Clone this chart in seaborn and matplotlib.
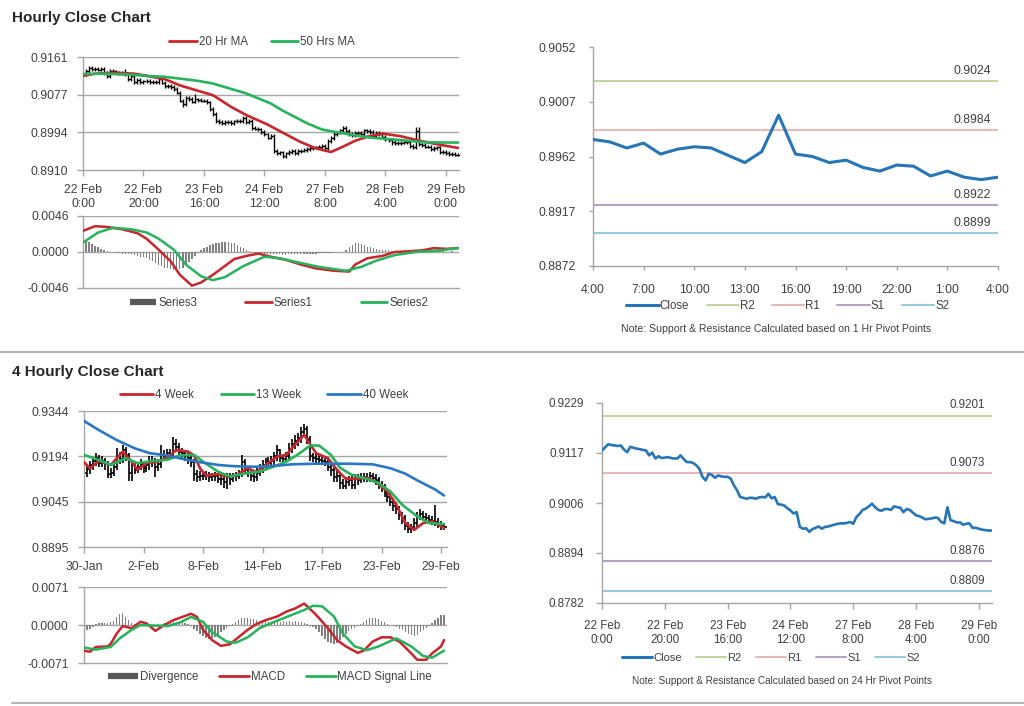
import numpy as np
import matplotlib
matplotlib.use("Agg")
import matplotlib.pyplot as plt
import seaborn as sns
from matplotlib.lines import Line2D

# ---------------- DATA ----------------
# Hourly chart (22 Feb 0:00 -> 29 Feb ~4:00), one value per hour
h_xlabels = ["22 Feb\n0:00", "22 Feb\n20:00", "23 Feb\n16:00", "24 Feb\n12:00",
             "27 Feb\n8:00", "28 Feb\n4:00", "29 Feb\n0:00"]
h_close = [0.9123, 0.9130, 0.9137, 0.9135, 0.9134, 0.9133, 0.9134, 0.9125, 0.9119, 0.9131,
           0.9129, 0.9127, 0.9126, 0.9124, 0.9123, 0.9112, 0.9118, 0.9105, 0.9110, 0.9106,
           0.9107, 0.9108, 0.9106, 0.9105, 0.9105, 0.9112, 0.9104, 0.9097, 0.9097, 0.9095,
           0.9090, 0.9082, 0.9064, 0.9056, 0.9071, 0.9068, 0.9062, 0.9067, 0.9065, 0.9064,
           0.9064, 0.9060, 0.9045, 0.9034, 0.9019, 0.9017, 0.9015, 0.9017, 0.9017, 0.9015,
           0.9018, 0.9019, 0.9018, 0.9026, 0.9016, 0.9019, 0.9003, 0.9002, 0.9000, 0.8994,
           0.8989, 0.8982, 0.8985, 0.8952, 0.8948, 0.8949, 0.8941, 0.8947, 0.8950, 0.8953,
           0.8948, 0.8952, 0.8953, 0.8955, 0.8957, 0.8959, 0.8960, 0.8960, 0.8961, 0.8963,
           0.8959, 0.8974, 0.8981, 0.8990, 0.8993, 0.8998, 0.9004, 0.8996, 0.8990, 0.8988,
           0.8992, 0.8992, 0.8990, 0.8998, 0.8996, 0.8995, 0.8985, 0.8992, 0.8990, 0.8984,
           0.8978, 0.8976, 0.8973, 0.8969, 0.8970, 0.8971, 0.8973, 0.8972, 0.8963, 0.8960,
           0.8996, 0.8967, 0.8965, 0.8962, 0.8962, 0.8957, 0.8959, 0.8960, 0.8950, 0.8950,
           0.8948, 0.8946, 0.8945, 0.8944, 0.8944]
h_high = [0.9127, 0.9134, 0.9141, 0.9141, 0.9139, 0.9138, 0.9138, 0.9138, 0.9129, 0.9135,
          0.9135, 0.9133, 0.9131, 0.9130, 0.9134, 0.9127, 0.9122, 0.9122, 0.9114, 0.9114,
          0.9111, 0.9112, 0.9112, 0.9110, 0.9109, 0.9116, 0.9116, 0.9108, 0.9101, 0.9101,
          0.9099, 0.9094, 0.9086, 0.9068, 0.9075, 0.9075, 0.9072, 0.9078, 0.9071, 0.9069,
          0.9068, 0.9068, 0.9064, 0.9049, 0.9038, 0.9023, 0.9021, 0.9021, 0.9021, 0.9021,
          0.9022, 0.9023, 0.9023, 0.9030, 0.9030, 0.9023, 0.9023, 0.9007, 0.9006, 0.9004,
          0.8998, 0.8993, 0.8989, 0.8989, 0.8956, 0.8953, 0.8953, 0.8951, 0.8954, 0.8957,
          0.8957, 0.8956, 0.8957, 0.8959, 0.8961, 0.8963, 0.8964, 0.8964, 0.8965, 0.8967,
          0.8967, 0.8978, 0.8985, 0.8994, 0.8997, 0.9002, 0.9008, 0.9008, 0.9000, 0.8994,
          0.8996, 0.8996, 0.8996, 0.9002, 0.9002, 0.9000, 0.8999, 0.8996, 0.8996, 0.8994,
          0.8988, 0.8982, 0.8980, 0.8977, 0.8974, 0.8975, 0.8977, 0.8977, 0.8976, 0.8967,
          0.9005, 0.9005, 0.8971, 0.8969, 0.8966, 0.8966, 0.8963, 0.8964, 0.8964, 0.8954,
          0.8954, 0.8952, 0.8950, 0.8949, 0.8948]
h_low = [0.9119, 0.9119, 0.9126, 0.9131, 0.9130, 0.9129, 0.9129, 0.9121, 0.9115, 0.9115,
         0.9125, 0.9123, 0.9122, 0.9120, 0.9119, 0.9108, 0.9108, 0.9101, 0.9101, 0.9102,
         0.9102, 0.9103, 0.9102, 0.9101, 0.9101, 0.9101, 0.9100, 0.9093, 0.9093, 0.9091,
         0.9086, 0.9078, 0.9060, 0.9050, 0.9052, 0.9064, 0.9058, 0.9058, 0.9061, 0.9060,
         0.9060, 0.9056, 0.9041, 0.9030, 0.9015, 0.9013, 0.9011, 0.9011, 0.9013, 0.9011,
         0.9011, 0.9014, 0.9014, 0.9014, 0.9012, 0.9012, 0.8999, 0.8998, 0.8996, 0.8990,
         0.8985, 0.8978, 0.8978, 0.8948, 0.8944, 0.8944, 0.8937, 0.8937, 0.8943, 0.8946,
         0.8944, 0.8944, 0.8948, 0.8949, 0.8951, 0.8953, 0.8955, 0.8956, 0.8956, 0.8957,
         0.8952, 0.8955, 0.8970, 0.8977, 0.8986, 0.8989, 0.8994, 0.8992, 0.8986, 0.8984,
         0.8984, 0.8988, 0.8986, 0.8986, 0.8992, 0.8991, 0.8981, 0.8981, 0.8986, 0.8980,
         0.8974, 0.8972, 0.8966, 0.8965, 0.8965, 0.8966, 0.8967, 0.8968, 0.8959, 0.8956,
         0.8956, 0.8963, 0.8961, 0.8958, 0.8958, 0.8953, 0.8953, 0.8955, 0.8946, 0.8946,
         0.8944, 0.8942, 0.8941, 0.8940, 0.8940]
ma20h_x = [0, 4, 10, 17, 22, 27, 32, 37, 43, 49, 54, 61, 66, 72, 77, 82, 86, 90, 94, 99, 105, 112, 118, 124]
ma20h_y = [0.9119, 0.9124, 0.9126, 0.9124, 0.9118, 0.9112, 0.9098, 0.9088, 0.9076, 0.9050, 0.9032, 0.9011,
           0.8993, 0.8972, 0.8958, 0.8950, 0.8962, 0.8975, 0.8984, 0.8991, 0.8985, 0.8974, 0.8966, 0.8959]
ma50h_x = [0, 6, 15, 21, 27, 32, 38, 43, 49, 54, 58, 62, 66, 70, 74, 79, 83, 89, 95, 104, 112, 118, 124]
ma50h_y = [0.9123, 0.9124, 0.9122, 0.9119, 0.9117, 0.9113, 0.9108, 0.9102, 0.9090, 0.9080, 0.9069, 0.9058,
           0.9042, 0.9028, 0.9014, 0.9000, 0.8995, 0.8988, 0.8982, 0.8977, 0.8972, 0.8971, 0.8971]
# hourly MACD
h_hist = [0.0016, 0.0014, 0.0013, 0.0010, 0.0008, 0.0006, 0.0004, 0.0002, 0.0001, 0.0000,
          0.0000, -0.0001, -0.0001, -0.0002, -0.0002, -0.0003, -0.0003, -0.0004, -0.0005, -0.0006,
          -0.0007, -0.0008, -0.0010, -0.0012, -0.0014, -0.0016, -0.0018, -0.0020, -0.0021, -0.0022,
          -0.0023, -0.0023, -0.0022, -0.0020, -0.0017, -0.0013, -0.0009, -0.0005, -0.0001, 0.0002,
          0.0005, 0.0007, 0.0009, 0.0010, 0.0011, 0.0012, 0.0013, 0.0013, 0.0013, 0.0012,
          0.0011, 0.0009, 0.0007, 0.0005, 0.0003, 0.0001, 0.0000, -0.0001, -0.0001, -0.0002,
          -0.0002, -0.0002, -0.0003, -0.0003, -0.0003, -0.0003, -0.0004, -0.0004, -0.0003, -0.0003,
          -0.0003, -0.0003, -0.0003, -0.0003, -0.0002, -0.0002, -0.0002, -0.0002, -0.0001, -0.0001,
          -0.0001, -0.0001, -0.0001, 0.0000, 0.0000, 0.0000, 0.0000, 0.0002, 0.0006, 0.0009,
          0.0011, 0.0011, 0.0010, 0.0009, 0.0007, 0.0006, 0.0005, 0.0004, 0.0003, 0.0003,
          0.0002, 0.0002, 0.0001, 0.0001, 0.0001, 0.0000, 0.0001, 0.0001, 0.0001, 0.0001,
          0.0002, 0.0002, 0.0002, 0.0002, 0.0002, 0.0002, 0.0001, 0.0001, 0.0001, 0.0001,
          0.0000, 0.0000, 0.0001, 0.0000, 0.0000]
h_macd_x = [0, 4, 8, 13, 18, 21, 25, 29, 32, 36, 39, 43, 50, 54, 58, 62, 67, 72, 77, 83, 88, 90, 94, 99,
            103, 108, 112, 116, 120, 124]
h_macd_y = [0.0027, 0.0033, 0.0032, 0.0029, 0.0024, 0.0017, 0.0003, -0.0012, -0.0029, -0.0043, -0.0039,
            -0.0029, -0.0009, -0.0005, -0.0002, -0.0006, -0.0010, -0.0016, -0.0021, -0.0024, -0.0025,
            -0.0016, -0.0008, -0.0005, 0.0000, 0.0001, 0.0002, 0.0005, 0.0004, 0.0005]
h_sig_x = [0, 5, 10, 16, 21, 25, 30, 34, 39, 43, 47, 53, 60, 65, 72, 78, 87, 92, 97, 103, 110, 118, 124]
h_sig_y = [0.0012, 0.0025, 0.0031, 0.0029, 0.0025, 0.0017, 0.0003, -0.0016, -0.0031, -0.0036, -0.0032,
           -0.0018, -0.0006, -0.0008, -0.0014, -0.0019, -0.0024, -0.0019, -0.0011, -0.0004, 0.0000,
           0.0002, 0.0005]

# Last 24 hours close (4:00 -> 4:00)
d_xlabels = ["4:00", "7:00", "10:00", "13:00", "16:00", "19:00", "22:00", "1:00", "4:00"]
d_close = [0.8976, 0.8974, 0.8969, 0.8973, 0.8964, 0.8968, 0.8970, 0.8969, 0.8963, 0.8957,
           0.8966, 0.8996, 0.8964, 0.8962, 0.8957, 0.8959, 0.8953, 0.8950, 0.8955, 0.8954,
           0.8946, 0.8950, 0.8945, 0.8943, 0.8945]
pivot_names = ["R2", "R1", "S1", "S2"]
pivot_1h = [0.9024, 0.8984, 0.8922, 0.8899]
pivot_24h = [0.9201, 0.9073, 0.8876, 0.8809]

# 4 hourly chart
f_xlabels = ["30-Jan", "2-Feb", "8-Feb", "14-Feb", "17-Feb", "23-Feb", "29-Feb"]
f_close = [0.9140, 0.9152, 0.9165, 0.9178, 0.9190, 0.9172, 0.9180, 0.9168, 0.9135, 0.9140,
           0.9160, 0.9195, 0.9185, 0.9215, 0.9200, 0.9140, 0.9165, 0.9150, 0.9160, 0.9170,
           0.9155, 0.9165, 0.9175, 0.9180, 0.9160, 0.9170, 0.9200, 0.9195, 0.9205, 0.9200,
           0.9235, 0.9225, 0.9210, 0.9205, 0.9195, 0.9190, 0.9175, 0.9135, 0.9125, 0.9130,
           0.9128, 0.9132, 0.9125, 0.9130, 0.9128, 0.9120, 0.9118, 0.9110, 0.9125, 0.9120,
           0.9128, 0.9130, 0.9135, 0.9175, 0.9150, 0.9140, 0.9130, 0.9125, 0.9140, 0.9155,
           0.9165, 0.9175, 0.9172, 0.9180, 0.9195, 0.9215, 0.9190, 0.9185, 0.9195, 0.9220,
           0.9235, 0.9245, 0.9255, 0.9275, 0.9285, 0.9250, 0.9195, 0.9190, 0.9185, 0.9182,
           0.9178, 0.9175, 0.9160, 0.9150, 0.9125, 0.9130, 0.9105, 0.9098, 0.9110, 0.9115,
           0.9100, 0.9120, 0.9115, 0.9122, 0.9125, 0.9120, 0.9128, 0.9122, 0.9115, 0.9100,
           0.9090, 0.9075, 0.9060, 0.9045, 0.9030, 0.9020, 0.9000, 0.8990, 0.8965, 0.8955,
           0.8960, 0.8975, 0.8995, 0.9005, 0.8995, 0.8990, 0.8985, 0.8980, 0.8978, 0.8970,
           0.8965, 0.8962]
f_high = [0.9160, 0.9167, 0.9180, 0.9192, 0.9205, 0.9200, 0.9195, 0.9190, 0.9178, 0.9155,
          0.9180, 0.9221, 0.9210, 0.9232, 0.9225, 0.9205, 0.9180, 0.9175, 0.9172, 0.9185,
          0.9180, 0.9178, 0.9195, 0.9195, 0.9190, 0.9185, 0.9232, 0.9215, 0.9220, 0.9220,
          0.9259, 0.9250, 0.9240, 0.9222, 0.9215, 0.9210, 0.9205, 0.9185, 0.9150, 0.9145,
          0.9142, 0.9145, 0.9142, 0.9140, 0.9142, 0.9138, 0.9132, 0.9128, 0.9140, 0.9138,
          0.9140, 0.9142, 0.9150, 0.9199, 0.9185, 0.9162, 0.9152, 0.9145, 0.9155, 0.9170,
          0.9182, 0.9190, 0.9192, 0.9195, 0.9210, 0.9232, 0.9220, 0.9200, 0.9210, 0.9240,
          0.9250, 0.9265, 0.9270, 0.9290, 0.9300, 0.9295, 0.9260, 0.9205, 0.9202, 0.9198,
          0.9195, 0.9192, 0.9188, 0.9172, 0.9160, 0.9145, 0.9140, 0.9118, 0.9125, 0.9130,
          0.9128, 0.9135, 0.9135, 0.9138, 0.9140, 0.9138, 0.9142, 0.9140, 0.9135, 0.9125,
          0.9112, 0.9102, 0.9088, 0.9072, 0.9058, 0.9045, 0.9032, 0.9012, 0.9000, 0.8978,
          0.8972, 0.8990, 0.9010, 0.9020, 0.9015, 0.9008, 0.9002, 0.8998, 0.9034, 0.8990,
          0.8982, 0.8975]
f_low = [0.9118, 0.9125, 0.9137, 0.9150, 0.9163, 0.9158, 0.9160, 0.9150, 0.9123, 0.9122,
         0.9128, 0.9150, 0.9170, 0.9172, 0.9180, 0.9112, 0.9112, 0.9135, 0.9138, 0.9148,
         0.9140, 0.9142, 0.9150, 0.9160, 0.9125, 0.9145, 0.9155, 0.9180, 0.9182, 0.9185,
         0.9190, 0.9210, 0.9195, 0.9190, 0.9180, 0.9170, 0.9160, 0.9112, 0.9110, 0.9112,
         0.9115, 0.9115, 0.9110, 0.9112, 0.9112, 0.9105, 0.9100, 0.9090, 0.9085, 0.9100,
         0.9108, 0.9112, 0.9118, 0.9125, 0.9135, 0.9125, 0.9112, 0.9108, 0.9112, 0.9128,
         0.9140, 0.9150, 0.9158, 0.9160, 0.9165, 0.9180, 0.9175, 0.9170, 0.9172, 0.9180,
         0.9205, 0.9220, 0.9230, 0.9240, 0.9260, 0.9235, 0.9180, 0.9175, 0.9172, 0.9170,
         0.9165, 0.9162, 0.9145, 0.9130, 0.9110, 0.9110, 0.9088, 0.9085, 0.9085, 0.9095,
         0.9088, 0.9088, 0.9100, 0.9105, 0.9110, 0.9108, 0.9110, 0.9110, 0.9100, 0.9085,
         0.9075, 0.9060, 0.9045, 0.9030, 0.9015, 0.9005, 0.8985, 0.8972, 0.8950, 0.8940,
         0.8942, 0.8948, 0.8962, 0.8985, 0.8982, 0.8978, 0.8972, 0.8968, 0.8965, 0.8958,
         0.8952, 0.8950]
ma4w_x = [0, 2, 5, 9, 13, 16, 18, 21, 24, 28, 31, 35, 37, 39, 41, 45, 48, 51, 55, 58, 61, 65, 68, 70,
          74, 76, 78, 82, 85, 88, 92, 95, 98, 102, 105, 108, 111, 114, 117, 119, 121]
ma4w_y = [0.9175, 0.9155, 0.9179, 0.9166, 0.9210, 0.9177, 0.9150, 0.9172, 0.9175, 0.9190, 0.9215, 0.9210,
          0.9197, 0.9155, 0.9131, 0.9135, 0.9128, 0.9131, 0.9155, 0.9142, 0.9166, 0.9194, 0.9199, 0.9223,
          0.9265, 0.9234, 0.9205, 0.9188, 0.9150, 0.9120, 0.9120, 0.9124, 0.9111, 0.9078, 0.9034, 0.8974,
          0.8952, 0.8974, 0.8980, 0.8969, 0.8958]
ma13w_x = [0, 4, 9, 14, 18, 23, 28, 32, 37, 40, 45, 49, 55, 59, 64, 68, 72, 76, 79, 83, 86, 90, 95, 99,
           103, 107, 112, 116, 121]
ma13w_y = [0.9199, 0.9186, 0.9166, 0.9188, 0.9172, 0.9179, 0.9183, 0.9197, 0.9199, 0.9177, 0.9144, 0.9128,
           0.9139, 0.9144, 0.9161, 0.9177, 0.9201, 0.9230, 0.9230, 0.9199, 0.9157, 0.9133, 0.9120, 0.9106,
           0.9078, 0.9034, 0.8996, 0.8974, 0.8971]
ma40w_x = [0, 5, 11, 17, 22, 28, 33, 39, 45, 50, 57, 63, 70, 78, 89, 97, 103, 108, 112, 118, 121]
ma40w_y = [0.9311, 0.9281, 0.9248, 0.9221, 0.9205, 0.9197, 0.9186, 0.9175, 0.9166, 0.9162, 0.9160, 0.9162,
           0.9168, 0.9170, 0.9170, 0.9168, 0.9155, 0.9137, 0.9115, 0.9085, 0.9065]
# 4 hourly MACD
f_div = [-0.0008, -0.0010, -0.0008, -0.0003, 0.0002, 0.0003, 0.0004, 0.0004, 0.0003, 0.0005,
         0.0008, 0.0015, 0.0021, 0.0022, 0.0015, 0.0010, 0.0004, 0.0002, 0.0003, 0.0001,
         0.0001, 0.0000, -0.0002, -0.0004, -0.0002, 0.0001, 0.0002, 0.0003, 0.0004, 0.0005,
         0.0005, 0.0006, 0.0006, 0.0005, 0.0004, 0.0002, -0.0002, -0.0008, -0.0012, -0.0016,
         -0.0020, -0.0024, -0.0026, -0.0025, -0.0022, -0.0018, -0.0014, -0.0010, -0.0006, -0.0002,
         0.0002, 0.0006, 0.0010, 0.0013, 0.0014, 0.0013, 0.0012, 0.0011, 0.0009, 0.0008,
         0.0008, 0.0007, 0.0006, 0.0006, 0.0005, 0.0006, 0.0006, 0.0007, 0.0006, 0.0007,
         0.0006, 0.0007, 0.0006, 0.0005, 0.0003, 0.0001, -0.0002, -0.0004, -0.0008, -0.0014,
         -0.0020, -0.0026, -0.0031, -0.0034, -0.0035, -0.0033, -0.0028, -0.0022, -0.0016, -0.0012,
         -0.0008, -0.0005, -0.0002, 0.0002, 0.0006, 0.0010, 0.0013, 0.0014, 0.0013, 0.0011,
         0.0008, 0.0005, 0.0002, 0.0000, -0.0002, -0.0004, -0.0007, -0.0010, -0.0014, -0.0017,
         -0.0019, -0.0020, -0.0018, -0.0014, -0.0010, -0.0006, -0.0002, 0.0003, 0.0009, 0.0014,
         0.0018, 0.0019]
f_macd_x = [0, 2, 4, 8, 9, 11, 13, 16, 19, 21, 24, 27, 30, 33, 36, 38, 40, 43, 46, 49, 51, 55, 58, 61,
            65, 68, 71, 74, 75, 78, 82, 85, 88, 92, 94, 97, 100, 103, 106, 110, 112, 115, 117, 120, 121]
f_macd_y = [-0.0048, -0.0050, -0.0041, -0.0040, -0.0035, -0.0016, -0.0002, -0.0006, 0.0006, 0.0003,
            -0.0011, 0.0000, 0.0009, 0.0015, 0.0021, 0.0015, -0.0009, -0.0028, -0.0039, -0.0036,
            -0.0027, -0.0009, 0.0002, 0.0009, 0.0016, 0.0025, 0.0031, 0.0040, 0.0035, 0.0019,
            -0.0006, -0.0028, -0.0040, -0.0052, -0.0048, -0.0031, -0.0023, -0.0023, -0.0031, -0.0053,
            -0.0065, -0.0065, -0.0053, -0.0040, -0.0028]
f_sig_x = [0, 4, 9, 12, 16, 19, 23, 28, 32, 36, 40, 43, 48, 51, 55, 59, 64, 69, 74, 77, 80, 84, 87, 91,
           95, 99, 105, 110, 114, 117, 121]
f_sig_y = [-0.0042, -0.0046, -0.0041, -0.0025, -0.0009, 0.0000, -0.0001, -0.0002, 0.0004, 0.0015, 0.0006,
           -0.0013, -0.0031, -0.0033, -0.0023, -0.0006, 0.0006, 0.0017, 0.0028, 0.0036, 0.0035, 0.0016,
           -0.0016, -0.0040, -0.0047, -0.0040, -0.0025, -0.0040, -0.0058, -0.0061, -0.0048]

# y tick labels shown on each panel
yt_hourly = ["0.8910", "0.8994", "0.9077", "0.9161"]
yt_hmacd = ["-0.0046", "0.0000", "0.0046"]
yt_day = ["0.8872", "0.8917", "0.8962", "0.9007", "0.9052"]
yt_four = ["0.8895", "0.9045", "0.9194", "0.9344"]
yt_fmacd = ["-0.0071", "0.0000", "0.0071"]
yt_piv24 = ["0.8782", "0.8894", "0.9006", "0.9117", "0.9229"]

# ---------------- STYLE ----------------
sns.set_theme(style="white")
plt.rcParams["font.family"] = ["Liberation Sans", "DejaVu Sans"]

W, H = 1024, 706
fig = plt.figure(figsize=(W / 100, H / 100), dpi=100)
fig.patch.set_facecolor("white")

GRID = "#a6a6a6"
TXT = "#404040"
RED = "#c8262c"
GREEN = "#26b35c"
BLUE = "#2a78c2"
CLOSE = "#2675b6"
BARG = "#808080"
PIV_COL = ["#c3d69b", "#e6b9b8", "#b3a2c7", "#93cddd"]


def add_ax(x, y, w, h):
    return fig.add_axes([x / W, 1 - (y + h) / H, w / W, h / H])


def style(ax, lims, labels, grid=True, ypad=6, xpad=6, fs=8.8, ticklen=4):
    lo, hi = lims
    ticks = np.linspace(lo, hi, len(labels))
    ax.set_ylim(lo, hi)
    ax.set_yticks(ticks)
    ax.set_yticklabels(labels)
    for s in ["top", "right"]:
        ax.spines[s].set_visible(False)
    for s in ["left", "bottom"]:
        ax.spines[s].set_color(GRID)
        ax.spines[s].set_linewidth(1)
    ax.set_facecolor("white")
    ax.tick_params(axis="y", left=True, colors=GRID, labelcolor=TXT, labelsize=fs,
                   length=ticklen, width=1, direction="out", pad=ypad)
    ax.tick_params(axis="x", bottom=True, colors=GRID, labelcolor=TXT, labelsize=fs,
                   length=ticklen, width=1, direction="out", pad=xpad)
    if grid:
        for t in ticks[1:]:
            ax.axhline(t, color=GRID, lw=1, zorder=0)
    ax.grid(False)
    return ticks


def legend(handles, labels, cx, cy, fs=8.3, hl=2.5, cs=2.0, htp=0.15):
    fig.legend(handles, labels, loc="center", bbox_to_anchor=(cx / W, 1 - cy / H),
               ncol=len(handles), frameon=False, fontsize=fs, handlelength=hl,
               columnspacing=cs, handletextpad=htp, labelcolor=TXT, borderpad=0)


def line_h(color, lw=2):
    return Line2D([], [], color=color, lw=lw)


def bar_h():
    return Line2D([], [], color="#595959", lw=4.5, solid_capstyle="butt")


# ---------------- TITLES & SEPARATORS ----------------
fig.text(12 / W, 1 - 22 / H, "Hourly Close Chart", fontsize=11, fontweight="bold",
         color="#262626", va="baseline")
fig.text(12 / W, 1 - 376 / H, "4 Hourly Close Chart", fontsize=11, fontweight="bold",
         color="#262626", va="baseline")
fig.add_artist(Line2D([0, 1], [1 - 352 / H] * 2, color="#b4b4b4", lw=1.5, transform=fig.transFigure))
fig.add_artist(Line2D([12 / W, 1], [1 - 703 / H] * 2, color="#b4b4b4", lw=1.5, transform=fig.transFigure))

# ---------------- PANEL 1: hourly price ----------------
ax1 = add_ax(83, 57, 376, 113)
style(ax1, (0.8910, 0.9161), yt_hourly, ypad=7, xpad=6)
i1 = np.arange(len(h_close))
ax1.vlines(i1, h_low, h_high, color="black", lw=1.0, zorder=2)
ax1.plot(i1, h_close, ls="none", marker=1, ms=2.2, mew=1.0, color="black", zorder=2)
sns.lineplot(x=ma20h_x, y=ma20h_y, ax=ax1, color=RED, lw=1.9, zorder=3)
sns.lineplot(x=ma50h_x, y=ma50h_y, ax=ax1, color=GREEN, lw=1.9, zorder=3)
ax1.set_xlim(0, 124.3)
ax1.set_xticks(np.arange(0, 121, 20))
ax1.set_xticklabels(h_xlabels, linespacing=1.25)
ax1.set_xlabel("")
ax1.set_ylabel("")
legend([line_h(RED), line_h(GREEN)], ["20 Hr MA", "50 Hrs MA"], 262, 42, hl=2.4, cs=2.0)

# ---------------- PANEL 2: hourly MACD ----------------
ax2 = add_ax(83, 216, 376, 72)
style(ax2, (-0.0046, 0.0046), yt_hmacd, ypad=6)
ax2.bar(i1, h_hist, width=0.45, color=BARG, linewidth=0, edgecolor="none", zorder=1)
sns.lineplot(x=h_macd_x, y=h_macd_y, ax=ax2, color=RED, lw=1.8, zorder=3)
sns.lineplot(x=h_sig_x, y=h_sig_y, ax=ax2, color=GREEN, lw=1.8, zorder=3)
ax2.set_xlim(0, 124.3)
ax2.set_xticks([])
ax2.set_xlabel("")
ax2.set_ylabel("")
legend([bar_h(), line_h(RED), line_h(GREEN)], ["Series3", "Series1", "Series2"], 279, 303,
       hl=2.3, cs=4.2)

# ---------------- PANEL 3: last 24h with 1h pivots ----------------
ax3 = add_ax(593, 47, 405, 219)
style(ax3, (0.8872, 0.9052), yt_day, grid=False, ypad=9.5, xpad=10, fs=8.8, ticklen=3)
for v, c in zip(pivot_1h, PIV_COL):
    ax3.axhline(v, color=c, lw=1.5, zorder=1)
    ax3.annotate(f"{v:.4f}", xy=(24, v), xytext=(-5, 3), textcoords="offset points",
                 ha="right", va="bottom", fontsize=8.8, color=TXT)
sns.lineplot(x=np.arange(len(d_close)), y=d_close, ax=ax3, color=CLOSE, lw=2.2, zorder=3)
ax3.set_xlim(0, 24)
ax3.set_xticks(np.arange(0, 25, 3))
ax3.set_xticklabels(d_xlabels)
ax3.set_xlabel("")
ax3.set_ylabel("")
legend([line_h(CLOSE, 2.2)] + [line_h(c, 1.5) for c in PIV_COL], ["Close"] + pivot_names,
       788, 306, hl=2.8, cs=1.5, htp=0.1)
fig.text(776 / W, 1 - 329 / H, "Note: Support & Resistance Calculated based on 1 Hr Pivot Points",
         ha="center", va="center", fontsize=7.6, color=TXT)

# ---------------- PANEL 4: 4-hourly price ----------------
ax4 = add_ax(84, 411, 363, 136)
style(ax4, (0.8895, 0.9344), yt_four, ypad=7, xpad=6)
i4 = np.arange(len(f_close))
ax4.vlines(i4, f_low, f_high, color="black", lw=1.2, zorder=2)
ax4.plot(i4, f_close, ls="none", marker=1, ms=2.2, mew=1.2, color="black", zorder=2)
sns.lineplot(x=ma4w_x, y=ma4w_y, ax=ax4, color=RED, lw=1.9, zorder=3)
sns.lineplot(x=ma13w_x, y=ma13w_y, ax=ax4, color=GREEN, lw=1.9, zorder=3)
sns.lineplot(x=ma40w_x, y=ma40w_y, ax=ax4, color=BLUE, lw=1.9, zorder=3)
ax4.set_xlim(0, 122)
ax4.set_xticks(np.arange(0, 121, 20))
ax4.set_xticklabels(f_xlabels)
ax4.set_xlabel("")
ax4.set_ylabel("")
legend([line_h(RED), line_h(GREEN), line_h(BLUE)], ["4 Week", "13 Week", "40 Week"], 264, 395,
       hl=2.9, cs=2.3)

# ---------------- PANEL 5: 4-hourly MACD ----------------
ax5 = add_ax(84, 587, 363, 76)
style(ax5, (-0.0071, 0.0071), yt_fmacd, ypad=7)
ax5.bar(i4, f_div, width=0.45, color=BARG, linewidth=0, edgecolor="none", zorder=1)
sns.lineplot(x=f_macd_x, y=f_macd_y, ax=ax5, color=RED, lw=1.8, zorder=3)
sns.lineplot(x=f_sig_x, y=f_sig_y, ax=ax5, color=GREEN, lw=1.8, zorder=3)
ax5.set_xlim(0, 122)
ax5.set_xticks([])
ax5.set_xlabel("")
ax5.set_ylabel("")
legend([bar_h(), line_h(RED), line_h(GREEN)], ["Divergence", "MACD", "MACD Signal Line"], 270, 677,
       hl=2.6, cs=1.8)

# ---------------- PANEL 6: hourly close with 24h pivots ----------------
ax6 = add_ax(602, 403, 390, 200)
style(ax6, (0.8782, 0.9229), yt_piv24, grid=False, ypad=9, xpad=8, fs=8.4, ticklen=4)
for v, c in zip(pivot_24h, PIV_COL):
    ax6.axhline(v, color=c, lw=1.5, zorder=1)
    ax6.annotate(f"{v:.4f}", xy=(124.2, v), xytext=(-5, 3), textcoords="offset points",
                 ha="right", va="bottom", fontsize=8.4, color=TXT)
sns.lineplot(x=i1, y=h_close, ax=ax6, color=CLOSE, lw=1.9, zorder=3)
ax6.set_xlim(0, 124.2)
ax6.set_xticks(np.arange(0, 121, 20))
ax6.set_xticklabels(h_xlabels, linespacing=1.3)
ax6.set_xlabel("")
ax6.set_ylabel("")
legend([line_h(CLOSE, 2.2)] + [line_h(c, 1.5) for c in PIV_COL], ["Close"] + pivot_names,
       771, 658, fs=8.0, hl=2.7, cs=1.3, htp=0.1)
fig.text(782 / W, 1 - 681 / H, "Note: Support & Resistance Calculated based on 24 Hr Pivot Points",
         ha="center", va="center", fontsize=7.2, color=TXT)

fig.savefig("out.png", dpi=100, facecolor="white")
